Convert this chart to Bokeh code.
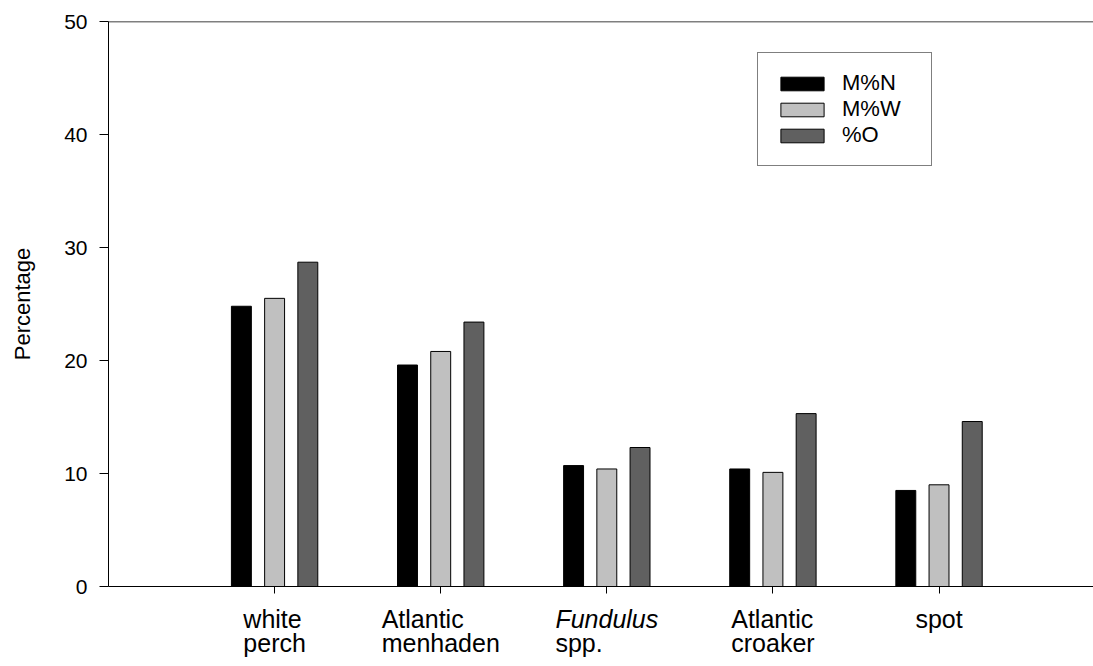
from bokeh.plotting import figure
from bokeh.layouts import column
from bokeh.models import (Range1d, FixedTicker, Legend, LegendItem, Span,
                          ColumnDataSource)
from bokeh.transform import dodge
from bokeh.core.properties import value
from bokeh.embed import file_html
from bokeh.resources import INLINE

# ---------------- data ----------------
categories = ["white perch", "Atlantic menhaden", "Fundulus spp.", "Atlantic croaker", "spot"]
label_line1 = ["white", "Atlantic", "Fundulus", "Atlantic", "spot"]
label_line2 = ["perch", "menhaden", "spp.", "croaker", ""]
line1_italic = [False, False, True, False, False]
series_names = ["M%N", "M%W", "%O"]
m_pct_n = [24.8, 19.6, 10.7, 10.4, 8.5]
m_pct_w = [25.5, 20.8, 10.4, 10.1, 9.0]
pct_o = [28.7, 23.4, 12.3, 15.3, 14.6]
y_ticks = [0, 10, 20, 30, 40, 50]

# ---------------- style ----------------
FONT = "Liberation Sans"
colors = ["#000000", "#c0c0c0", "#606060"]
offsets = [-0.2, 0.0, 0.2]
CAT_FONT_PX = 25
W = 1093
LEFT = 108
TOP = 21
FRAME_H = 565
BOTTOM_MAIN = 12
LABEL_H = 666 - (TOP + FRAME_H + BOTTOM_MAIN)
LINE1_Y = -20
LINE_GAP = 24
# Arial / Liberation Sans advance widths (em), used to centre left-aligned label blocks
CW = {'a': .556, 'b': .556, 'c': .5, 'd': .556, 'e': .556, 'f': .278, 'g': .556, 'h': .556,
      'i': .222, 'k': .5, 'l': .222, 'm': .833, 'n': .556, 'o': .556, 'p': .556, 'r': .333,
      's': .5, 't': .278, 'u': .556, 'w': .722, '.': .278, 'A': .667, 'F': .611, ' ': .278}


def text_w(s):
    return sum(CW.get(ch, .556) for ch in s) * CAT_FONT_PX


xr = Range1d(0, 5.93)
fig = figure(width=W, height=TOP + FRAME_H + BOTTOM_MAIN, x_range=xr, y_range=Range1d(0, 50),
             output_backend="svg", toolbar_location=None,
             min_border_left=LEFT, min_border_right=0, min_border_top=TOP,
             min_border_bottom=BOTTOM_MAIN)
fig.outline_line_color = None
fig.grid.visible = False
fig.background_fill_color = "white"
fig.border_fill_color = "white"

pos = list(range(1, len(categories) + 1))
src = ColumnDataSource(dict(pos=pos, n=m_pct_n, w=m_pct_w, o=pct_o))

renderers = []
for col, c, off in zip(["n", "w", "o"], colors, offsets):
    r = fig.vbar(x=dodge("pos", off, range=xr), top=col, bottom=0, width=0.12,
                 source=src, fill_color=c, line_color="black", line_width=1)
    renderers.append(r)

# top frame line
fig.add_layout(Span(location=50, dimension="width", line_color="black", line_width=1.3))

# y axis
ya = fig.yaxis[0]
ya.ticker = FixedTicker(ticks=y_ticks)
ya.major_tick_out = 9
ya.major_tick_in = 0
ya.minor_tick_line_color = None
ya.major_label_standoff = 12
ya.major_label_text_font = FONT
ya.major_label_text_font_size = "21px"
ya.major_label_text_color = "black"
ya.axis_label = "Percentage"
ya.axis_label_text_font = FONT
ya.axis_label_text_font_size = "22px"
ya.axis_label_text_font_style = "normal"
ya.axis_label_text_color = "black"
ya.axis_label_standoff = 26
ya.axis_line_color = "black"
ya.major_tick_line_color = "black"

# x axis (ticks only; the labels are drawn in the strip below)
xa = fig.xaxis[0]
xa.ticker = FixedTicker(ticks=pos)
xa.major_label_overrides = {i: "" for i in pos}
xa.major_label_text_font_size = "0px"
xa.major_label_standoff = 0
xa.axis_label_standoff = 0
xa.major_tick_out = 7
xa.major_tick_in = 0
xa.minor_tick_line_color = None
xa.axis_line_color = "black"
xa.major_tick_line_color = "black"

legend = Legend(items=[LegendItem(label=nm, renderers=[r]) for nm, r in zip(series_names, renderers)],
                location=(649, 420), glyph_width=54, glyph_height=17, label_standoff=13,
                spacing=0, padding=17, label_width=72, margin=0,
                label_text_font=FONT, label_text_font_size="22px", label_text_color="black",
                border_line_color="black", border_line_width=1,
                background_fill_color="white", background_fill_alpha=1)
fig.add_layout(legend)

# ---------- category label strip (shares the x scale) ----------
lab = figure(width=W, height=LABEL_H, x_range=xr, y_range=Range1d(-LABEL_H, 0),
             output_backend="svg", toolbar_location=None,
             min_border_left=LEFT, min_border_right=0, min_border_top=0, min_border_bottom=0)
lab.axis.visible = False
lab.grid.visible = False
lab.outline_line_color = None
lab.background_fill_color = "white"
lab.border_fill_color = "white"

tx, ty, tt, toff, tstyle = [], [], [], [], []
for i, (l1, l2, it) in enumerate(zip(label_line1, label_line2, line1_italic)):
    bw = max(text_w(l1), text_w(l2))
    for k, (s, sty) in enumerate([(l1, "italic" if it else "normal"), (l2, "normal")]):
        if not s:
            continue
        tx.append(pos[i])
        ty.append(LINE1_Y - LINE_GAP * k)
        tt.append(s)
        toff.append(-bw / 2)
        tstyle.append(sty)
lsrc = ColumnDataSource(dict(x=tx, y=ty, t=tt, off=toff, sty=tstyle))
lab.text(x="x", y="y", text="t", x_offset="off", text_font_style="sty", source=lsrc,
         text_font=value(FONT), text_font_size=f"{CAT_FONT_PX}px",
         text_align="left", text_baseline="alphabetic", text_color="black")

p = column(fig, lab, spacing=0)
open("out.html", "w").write(file_html(p, INLINE))
